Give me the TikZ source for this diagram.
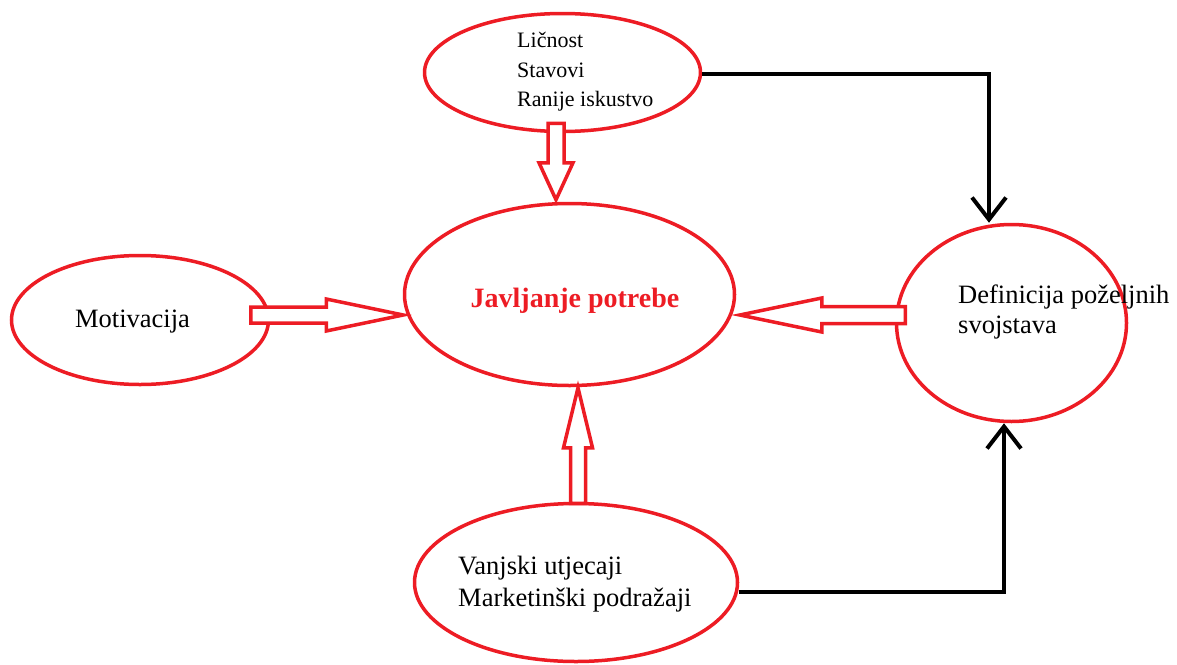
\documentclass[tikz,border=0pt]{standalone}
\usepackage{fontspec}
\setmainfont{Liberation Serif}
\usetikzlibrary{calc,shapes.geometric,arrows.meta}
\definecolor{paintred}{RGB}{237,28,36}
\def\hollowarrow[#1](#2)(#3)(#4:#5:#6){\coordinate (hb) at ($(#3)!#6!(#2)$); \draw[#1] ($(#2)!#4!-90:(#3)$) -- ($(hb)!#4!90:(#2)$) -- ($(hb)!#5!90:(#2)$) -- (#3) -- ($(hb)!#5!-90:(#2)$) -- ($(hb)!#4!-90:(#2)$) -- ($(#2)!#4!90:(#3)$) -- cycle;}

\begin{document}
\begin{tikzpicture}[x=1pt, y=-1pt,
		bubble/.style={ellipse, draw=paintred, line width=3.5pt, inner sep=0pt},
		hollow/.style={draw=paintred, line width=3.5pt, line join=miter, fill=white},
		link/.style={draw=black, line width=4pt, -{Straight Barb[length=22pt,width=34pt]}},
		txt/.style={font=\fontsize{26.5}{32}\selectfont, align=left, inner sep=0pt}]
			%%%%% START %%%%%
			\useasboundingbox (0,0) rectangle (1177,664);
			
			\node[bubble, minimum width=276pt, minimum height=118pt] (lic) at (562.5,72.5) {};
			\node[bubble, minimum width=330pt, minimum height=182pt] (jav) at (569.5,294.5) {};
			\node[bubble, minimum width=257pt, minimum height=129pt] (mot) at (140,320) {};
			\node[bubble, minimum width=230pt, minimum height=197pt] (def) at (1011.5,323) {};
			\node[bubble, minimum width=323pt, minimum height=158pt] (van) at (576,582.5) {};
			
			\node[txt, font=\fontsize{22}{29.5}\selectfont, anchor=west] (lic-txt) at (517,72) {Ličnost\\Stavovi\\Ranije iskustvo};
			\node[txt, anchor=base] (mot-txt) at (132.5,327) {Motivacija};
			\node[txt, font=\bfseries\fontsize{28}{32}\selectfont, text=paintred, anchor=base] (jav-txt) at (575,307) {Javljanje potrebe};
			\node[txt, font=\fontsize{26.5}{30}\selectfont, anchor=west] (def-txt) at (958,312) {Definicija poželjnih\\svojstava};
			\node[txt, anchor=west] (van-txt) at (458,584) {Vanjski utjecaji\\Marketinški podražaji};
			
			% hollow arrows into the centre
			\coordinate (lic-out) at ($(lic.south)+(-6.5,-10)$);
			\coordinate (jav-top) at ($(jav.north)+(-13.5,-2)$);
			\hollowarrow[hollow](lic-out)(jav-top)(8pt:17pt:37pt)
			
			\coordinate (mot-out) at ($(mot.east)+(-19.5,-5)$);
			\coordinate (jav-left) at ($(jav.west)+(0.5,20.5)$);
			\hollowarrow[hollow](mot-out)(jav-left)(8pt:16pt:77pt)
			
			\coordinate (def-out) at ($(def.west)+(10.5,-8)$);
			\coordinate (jav-right) at ($(jav.east)+(3.5,20.5)$);
			\hollowarrow[hollow](def-out)(jav-right)(8.5pt:17pt:82pt)
			
			\coordinate (van-out) at ($(van.north)+(2,1.5)$);
			\coordinate (jav-bot) at ($(jav.south)+(8.5,0.5)$);
			\hollowarrow[hollow](van-out)(jav-bot)(7.5pt:14.5pt:60pt)
			
			% black links to the right
			\draw[link] ($(lic.east)+(0,1.5)$) -| ($(def.north)+(-22.5,0)$);
			\draw[link] ($(van.east)+(0,9.5)$) -| ($(def.south)+(-7.5,0)$);
			%%%%% END %%%%%
\end{tikzpicture}
\end{document}
